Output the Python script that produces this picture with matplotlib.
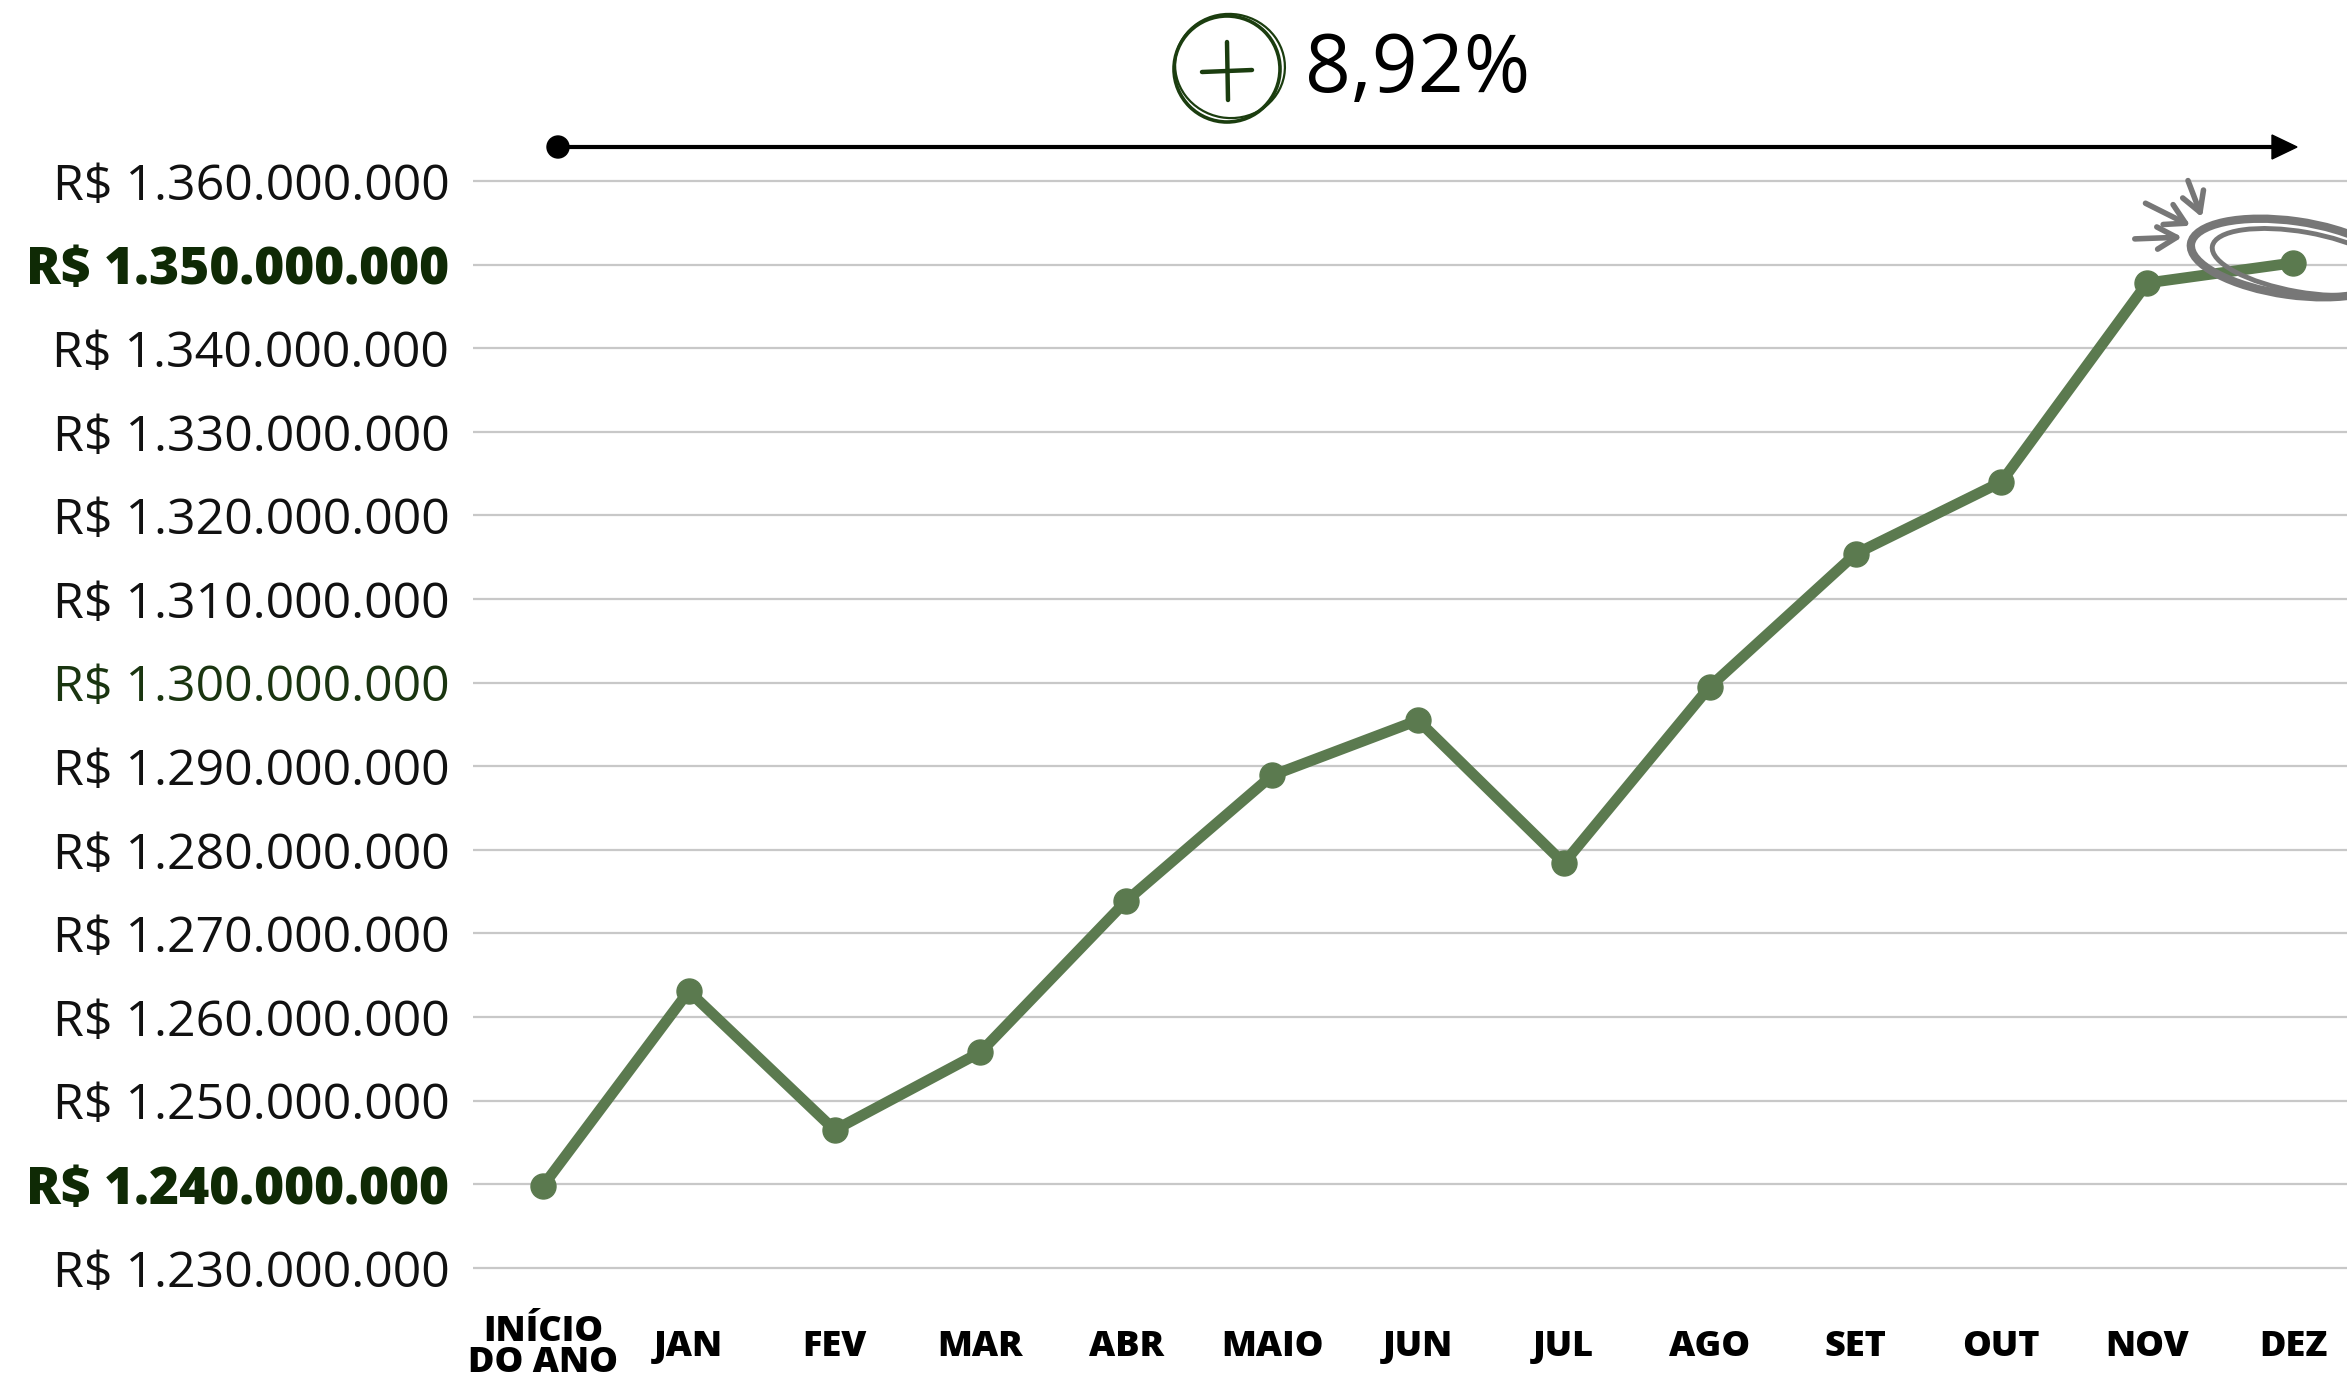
import matplotlib.pyplot as plt
from matplotlib.patches import Ellipse, Circle, Polygon

months = ["INÍCIO\nDO ANO", "JAN", "FEV", "MAR", "ABR", "MAIO", "JUN",
          "JUL", "AGO", "SET", "OUT", "NOV", "DEZ"]
# valores em milhões de R$
values = [1239.8, 1263.1, 1246.5, 1255.8, 1273.9, 1288.9, 1295.5,
          1278.4, 1299.5, 1315.4, 1324.0, 1347.8, 1350.2]
yticks = list(range(1230, 1370, 10))
growth_label = "8,92%"

green = "#5b7a4f"
dark_green = "#0f2a05"

plt.rcParams['font.family'] = ['Open Sans', 'DejaVu Sans']

W, H = 2347, 1379
fig = plt.figure(figsize=(W / 100, H / 100), dpi=100)
ax = fig.add_axes([0.2015, 0.0684, 0.7985, 0.8125])

x = list(range(len(months)))
ax.plot(x, values, color=green, lw=7.8, marker="o", markersize=18,
        solid_joinstyle="round", clip_on=False, zorder=3)

ax.set_xlim(-0.48, 12.37)
ax.set_ylim(1228, 1362)
ax.set_yticks(yticks)
ax.set_yticklabels(["R$ 1.%s.000.000" % str(v)[1:] for v in yticks])
ax.grid(axis="y", color="#c8c8c8", lw=1.6)
ax.set_axisbelow(True)
for s in ax.spines.values():
    s.set_visible(False)
ax.tick_params(axis="y", length=0, pad=17, labelsize=36)
ax.tick_params(axis="x", length=0, pad=45, labelsize=26)

ax.set_xticks(x)
ax.set_xticklabels(months)
for lab in ax.get_xticklabels():
    lab.set_fontweight("heavy")
    lab.set_verticalalignment("center")
    lab.set_linespacing(0.82)

for v, lab in zip(yticks, ax.get_yticklabels()):
    if v in (1240, 1350):
        lab.set_fontweight("heavy")
        lab.set_fontsize(37)
        lab.set_color(dark_green)
    elif v == 1300:
        lab.set_color("#1a3510")
    else:
        lab.set_color("#111111")

# camada de anotações em pixels
ov = fig.add_axes([0, 0, 1, 1], zorder=5)
ov.set_xlim(0, W)
ov.set_ylim(H, 0)
ov.axis("off")
ov.patch.set_alpha(0)

# seta do topo
ov.plot([558, 2275], [147, 147], color="black", lw=3)
ov.add_patch(Circle((558, 147), 11, color="black"))
ov.add_patch(Polygon([[2272, 135], [2297, 147], [2272, 159]], closed=True,
                     color="black"))

# círculo com +
cg = "#1b3d0f"
ov.add_patch(Circle((1227, 69), 53, fill=False, ec=cg, lw=2.6))
ov.add_patch(Ellipse((1230, 66), 110, 104, angle=10, fill=False, ec=cg, lw=1.6))
ov.plot([1202, 1252], [72, 70], color=cg, lw=3.2, solid_capstyle="round")
ov.plot([1227, 1228], [42, 100], color=cg, lw=3.2, solid_capstyle="round")
ov.text(1305, 71, growth_label, fontsize=58, va="center", ha="left",
        color="black")

# destaque em DEZ
gray = "#777777"
ov.add_patch(Ellipse((2292, 258), 204, 74, angle=8, fill=False, ec=gray, lw=6))
ov.add_patch(Ellipse((2302, 262), 182, 60, angle=10, fill=False, ec=gray, lw=3.5))
for (x0, y0, x1, y1) in [(2132, 239, 2185, 237), (2143, 202, 2193, 227),
                         (2187, 178, 2203, 220)]:
    ov.annotate("", xy=(x1, y1), xytext=(x0, y0),
                arrowprops=dict(arrowstyle="->,head_length=0.7,head_width=0.4",
                                color=gray, lw=4, mutation_scale=20))

fig.savefig("out.png", dpi=100)
